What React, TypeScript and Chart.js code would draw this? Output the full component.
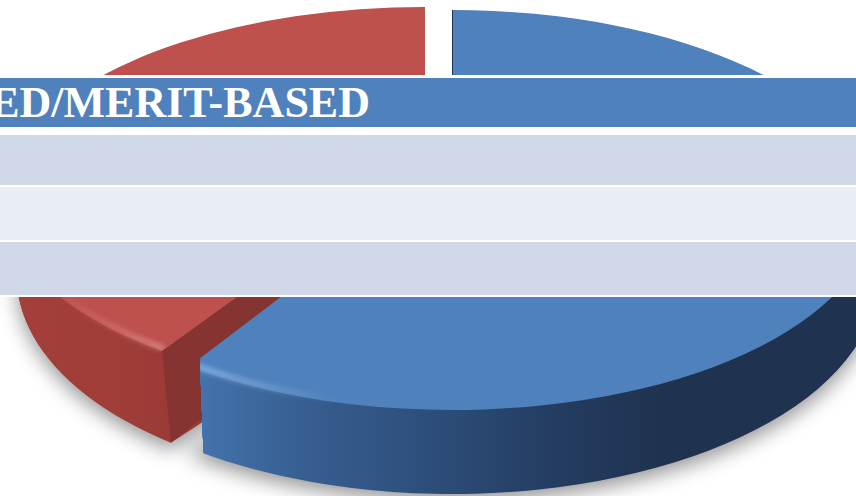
import React, { useEffect, useRef } from "react";
import { Chart, registerables } from "chart.js";

Chart.register(...registerables);

const categories = ["Need-based", "Merit-based"];
const shares = [60.7, 39.3];
const sliceColors = ["#4F81BD", "#BE504D"];
const headerText = "BASED/MERIT-BASED";

type Shape = {
  top: { cx: number; cy: number; rx: number; ry: number };
  bottom: { cx: number; cy: number; rx: number; ry: number };
  apex: [number, number];
  side: [number, string][];
};

const blueShape: Shape = {
  top: { cx: 452, cy: 210, rx: 422, ry: 200 },
  bottom: { cx: 452, cy: 280, rx: 425, ry: 214 },
  apex: [452, 167],
  side: [
    [200, "#4373AD"],
    [300, "#375F92"],
    [420, "#2E4F7C"],
    [560, "#233C60"],
    [660, "#1F3350"],
    [856, "#1F3350"],
  ],
};
const redShape: Shape = {
  top: { cx: 425, cy: 200, rx: 422, ry: 193 },
  bottom: { cx: 425, cy: 277, rx: 408, ry: 212 },
  apex: [425, 161],
  side: [
    [0, "#A5403C"],
    [60, "#A23E3A"],
    [120, "#A03D39"],
    [175, "#9A3A36"],
  ],
};

const mix = (a: any, b: any, t: number) => ({
  cx: a.cx + (b.cx - a.cx) * t,
  cy: a.cy + (b.cy - a.cy) * t,
  rx: a.rx + (b.rx - a.rx) * t,
  ry: a.ry + (b.ry - a.ry) * t,
});

function drawArc(ctx: CanvasRenderingContext2D, arc: any, e: any, fill: any, extra?: any) {
  const r = arc.outerRadius;
  ctx.save();
  ctx.translate(e.cx, e.cy);
  ctx.scale(e.rx / r, e.ry / r);
  const clone = Object.create(arc);
  clone.x = 0;
  clone.y = 0;
  clone.options = { ...arc.options, backgroundColor: fill, borderWidth: 0 };
  if (extra) Object.assign(clone, extra);
  clone.draw(ctx);
  ctx.restore();
}

function sideFill(ctx: CanvasRenderingContext2D, arc: any, e: any, stops: [number, string][]) {
  const k = arc.outerRadius / e.rx;
  const x0 = stops[0][0];
  const x1 = stops[stops.length - 1][0];
  const g = ctx.createLinearGradient((x0 - e.cx) * k, 0, (x1 - e.cx) * k, 0);
  stops.forEach(([x, c]) => g.addColorStop((x - x0) / (x1 - x0), c));
  return g;
}

const pointAt = (e: any, a: number): [number, number] => [
  e.cx + e.rx * Math.cos(a),
  e.cy + e.ry * Math.sin(a),
];

const piePlugin = {
  id: "extrudedPie",
  beforeDatasetDraw(chart: any) {
    const ctx: CanvasRenderingContext2D = chart.ctx;
    const [blue, red] = chart.getDatasetMeta(0).data;
    const cut = blue.endAngle;
    const depthSteps = 80;

    // soft ground shadow: the caster sits off the canvas, only its shadow lands here
    const away = 3000;
    ctx.save();
    ctx.beginPath();
    ctx.rect(0, 150, 856, 346);
    ctx.clip();
    [[blue, blueShape], [red, redShape]].forEach(([arc, s]: any) => {
      ctx.save();
      ctx.shadowColor = "rgba(0,0,0,0.42)";
      ctx.shadowBlur = 20;
      ctx.shadowOffsetX = away;
      ctx.shadowOffsetY = 7;
      drawArc(ctx, arc, { ...s.bottom, cx: s.bottom.cx - away }, "#000000");
      ctx.restore();
    });
    ctx.restore();

    // red side walls
    for (let i = depthSteps; i > 0; i--) {
      const e = mix(redShape.top, redShape.bottom, i / depthSteps);
      drawArc(ctx, red, e, sideFill(ctx, red, e, redShape.side));
    }
    // red cut face
    const c0 = pointAt(redShape.top, cut);
    const c1 = pointAt(redShape.bottom, cut);
    ctx.fillStyle = "#853431";
    ctx.beginPath();
    ctx.moveTo(c0[0], c0[1]);
    ctx.lineTo(c1[0], c1[1]);
    ctx.lineTo(redShape.apex[0], redShape.apex[1] + 84);
    ctx.lineTo(redShape.apex[0], redShape.apex[1]);
    ctx.closePath();
    ctx.fill();
    // red top face, trimmed to the perspective cut line
    ctx.save();
    ctx.beginPath();
    const dx = redShape.apex[0] - c0[0];
    const dy = redShape.apex[1] - c0[1];
    ctx.moveTo(c0[0] - dx, c0[1] - dy);
    ctx.lineTo(c0[0] + dx, c0[1] + dy);
    ctx.lineTo(856, -400);
    ctx.lineTo(-400, -400);
    ctx.lineTo(-400, 900);
    ctx.closePath();
    ctx.clip();
    drawArc(ctx, red, redShape.top, sliceColors[1]);
    // red rim highlight
    const rg = ctx.createLinearGradient(55, 0, c0[0], 0);
    rg.addColorStop(0, "rgba(255,210,205,0)");
    rg.addColorStop(1, "rgba(255,210,205,0.38)");
    ctx.strokeStyle = rg;
    ctx.lineWidth = 6;
    ctx.filter = "blur(2.5px)";
    ctx.beginPath();
    ctx.ellipse(redShape.top.cx, redShape.top.cy, redShape.top.rx - 3, redShape.top.ry - 3, 0, cut, cut + 0.62);
    ctx.stroke();
    ctx.restore();

    // blue: everything trimmed on the left by the near vertical edge
    const bc0 = pointAt(blueShape.top, cut);
    const bc1 = pointAt(blueShape.bottom, cut);
    ctx.save();
    ctx.beginPath();
    ctx.moveTo(bc0[0] + 11, -60);
    ctx.lineTo(bc0[0] + 11, bc0[1]);
    ctx.lineTo(bc1[0] + 16, bc1[1]);
    ctx.lineTo(bc1[0] + 16, 560);
    ctx.lineTo(900, 560);
    ctx.lineTo(900, -60);
    ctx.closePath();
    ctx.clip();
    for (let i = depthSteps; i > 0; i--) {
      const e = mix(blueShape.top, blueShape.bottom, i / depthSteps);
      drawArc(ctx, blue, e, sideFill(ctx, blue, e, blueShape.side));
    }
    ctx.beginPath();
    const bdx = blueShape.apex[0] - bc0[0];
    const bdy = blueShape.apex[1] - bc0[1];
    ctx.moveTo(bc0[0] - bdx, bc0[1] - bdy);
    ctx.lineTo(blueShape.apex[0], blueShape.apex[1]);
    ctx.lineTo(blueShape.apex[0], -60);
    ctx.lineTo(1000, -60);
    ctx.lineTo(1000, 800);
    ctx.closePath();
    ctx.clip();
    // top face extended a little past the cut, the trim gives the true edge
    const extra = 0.35;
    drawArc(ctx, blue, blueShape.top, sliceColors[0], {
      endAngle: blue.endAngle + extra,
      circumference: blue.circumference + extra,
    });
    const bg = ctx.createLinearGradient(bc0[0], 0, 340, 0);
    bg.addColorStop(0, "rgba(190,220,255,0.5)");
    bg.addColorStop(1, "rgba(190,220,255,0)");
    ctx.strokeStyle = bg;
    ctx.lineWidth = 6;
    ctx.filter = "blur(2.5px)";
    ctx.beginPath();
    ctx.ellipse(blueShape.top.cx, blueShape.top.cy, blueShape.top.rx - 3, blueShape.top.ry - 3, 0, cut - 0.45, cut);
    ctx.stroke();
    ctx.restore();

    // thin dark seam on the blue slice's straight edge
    ctx.strokeStyle = "#1F3350";
    ctx.lineWidth = 1;
    ctx.beginPath();
    ctx.moveTo(blueShape.top.cx + 0.5, blueShape.top.cy - blueShape.top.ry);
    ctx.lineTo(blueShape.top.cx + 0.5, blueShape.apex[1]);
    ctx.stroke();
    return false;
  },
};

const band = (top: number, height: number, background: string): React.CSSProperties => ({
  position: "absolute",
  left: 0,
  top,
  width: 856,
  height,
  background,
  overflow: "hidden",
});

export default function App() {
  const ref = useRef<HTMLCanvasElement>(null);
  useEffect(() => {
    const chart = new Chart(ref.current as HTMLCanvasElement, {
      type: "pie",
      data: {
        labels: categories,
        datasets: [{ data: shares, backgroundColor: sliceColors, borderWidth: 0 }],
      },
      options: {
        animation: false,
        responsive: false,
        plugins: { legend: { display: false }, tooltip: { enabled: false } },
      },
      plugins: [piePlugin],
    } as any);
    return () => chart.destroy();
  }, []);
  return (
    <div style={{ position: "absolute", left: 0, top: 0, width: 856, height: 496, overflow: "hidden", background: "#fff" }}>
      <canvas ref={ref} width={856} height={496} style={{ display: "block" }} />
      <div style={band(75, 222, "#ffffff")} />
      <div style={band(78, 49, "#4F81BD")}>
        <div
          style={{
            position: "absolute",
            right: 486,
            top: 0,
            height: 49,
            lineHeight: "50px",
            whiteSpace: "nowrap",
            color: "#fff",
            fontFamily: "'Liberation Serif', serif",
            fontWeight: 700,
            fontSize: 44,
          }}
        >
          {headerText}
        </div>
      </div>
      <div style={band(135, 50, "#D0D8E8")} />
      <div style={band(187, 53, "#E9EDF4")} />
      <div style={band(242, 53, "#D0D8E8")} />
    </div>
  );
}
